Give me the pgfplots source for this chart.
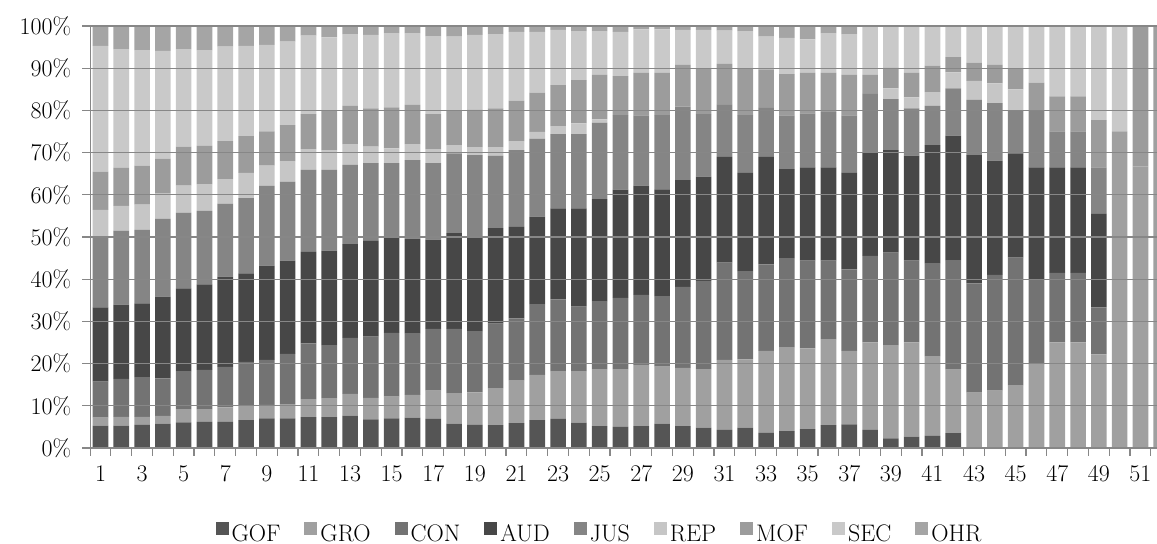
\documentclass[border=0pt]{standalone}
\usepackage{pgfplots}
\usepackage{pgfplotstable}
\pgfplotsset{compat=1.18}
\definecolor{cGOF}{HTML}{555555}
\definecolor{cGRO}{HTML}{A0A0A0}
\definecolor{cCON}{HTML}{737373}
\definecolor{cAUD}{HTML}{474747}
\definecolor{cJUS}{HTML}{858585}
\definecolor{cREP}{HTML}{C6C6C6}
\definecolor{cMOF}{HTML}{9C9C9C}
\definecolor{cSEC}{HTML}{C9C9C9}
\definecolor{cOHR}{HTML}{A5A5A5}
\definecolor{cgrid}{HTML}{878787}
\pgfplotstableread{
x GOF GRO CON AUD JUS REP MOF SEC OHR
1 5.3 1.9 8.5 17.6 16.6 6.5 9.1 29.8 4.7
2 5.3 2.1 9.0 17.6 17.5 5.9 9.0 28.1 5.5
3 5.5 1.9 9.4 17.5 17.4 6.0 9.2 27.4 5.7
4 5.8 1.8 8.9 19.4 18.4 6.0 8.3 25.5 5.9
5 6.1 3.1 9.0 19.6 18.0 6.4 9.2 23.1 5.5
6 6.2 3.0 9.3 20.3 17.4 6.3 9.1 22.7 5.7
7 6.2 3.4 9.6 21.4 17.3 5.8 9.0 22.4 4.9
8 6.6 3.5 10.3 21.0 17.8 6.0 8.7 21.4 4.7
9 7.0 3.2 10.7 22.3 18.9 4.8 8.1 20.5 4.5
10 7.0 3.4 11.9 22.1 18.7 4.9 8.5 19.8 3.7
11 7.3 4.3 13.2 21.7 19.4 4.9 8.3 18.6 2.3
12 7.3 4.5 12.6 22.4 19.1 4.7 9.3 17.4 2.7
13 7.7 5.1 13.3 22.2 18.8 4.9 9.1 17.0 1.9
14 6.8 5.1 14.5 22.7 18.4 3.9 9.1 17.4 2.1
15 7.0 5.2 15.1 22.6 17.6 3.5 9.7 17.6 1.7
16 7.2 5.4 14.6 22.4 18.6 3.8 9.3 17.0 1.7
17 6.9 6.7 14.6 21.2 18.1 3.3 8.3 18.5 2.4
18 5.8 7.2 15.2 22.7 18.9 2.0 8.1 17.6 2.5
19 5.5 7.7 14.5 22.3 19.4 1.9 8.8 17.8 2.1
20 5.4 8.8 15.3 22.6 17.2 2.0 9.2 17.6 1.9
21 5.9 10.2 14.6 21.7 18.2 2.1 9.6 16.3 1.4
22 6.6 10.7 16.8 20.7 18.5 1.6 9.3 14.4 1.4
23 6.9 11.3 17.0 21.6 17.6 1.9 9.7 13.1 0.9
24 6.0 12.2 15.3 23.3 17.6 2.5 10.3 11.6 1.2
25 5.2 13.5 16.1 24.2 18.1 0.8 10.5 10.4 1.2
26 5.0 13.7 16.9 25.6 17.7 0.0 9.2 10.5 1.4
27 5.2 14.5 16.6 25.9 16.6 0.0 10.1 10.3 0.8
28 5.8 13.5 16.7 25.3 17.6 0.0 10.0 10.3 0.8
29 5.2 13.8 19.2 25.3 17.4 0.0 9.9 8.3 0.9
30 4.8 13.9 20.9 24.7 14.8 0.0 10.9 9.1 0.9
31 4.3 16.6 23.0 25.1 12.3 0.0 9.7 7.9 1.1
32 4.8 16.2 20.9 23.3 13.7 0.0 11.1 8.8 1.2
33 3.6 19.4 20.5 25.5 11.6 0.0 9.1 7.8 2.5
34 4.0 19.9 21.1 21.1 12.7 0.0 9.8 8.6 2.8
35 4.5 19.1 20.8 22.1 12.8 0.0 9.6 7.9 3.2
36 5.4 20.4 18.6 22.1 13.1 0.0 9.3 9.4 1.7
37 5.6 17.4 19.3 22.9 13.6 0.0 9.6 9.7 1.9
38 4.3 20.7 20.5 24.6 13.8 0.0 4.5 11.6 0.0
39 2.3 22.1 21.9 24.3 12.1 2.5 4.9 9.9 0.0
40 2.7 22.3 19.4 24.9 11.2 2.6 5.8 11.1 0.0
41 2.9 18.9 22.0 28.0 9.3 3.2 6.3 9.4 0.0
42 3.5 15.1 25.9 29.5 11.2 3.8 3.6 7.4 0.0
43 0.0 13.1 25.9 30.4 13.1 4.5 4.3 8.7 0.0
44 0.0 13.6 27.4 27.1 13.6 4.7 4.4 9.2 0.0
45 0.0 14.9 30.2 24.7 10.1 5.1 5.0 10.0 0.0
46 0.0 19.9 20.1 26.5 13.4 0.0 6.7 13.4 0.0
47 0.0 25.0 16.5 25.0 8.5 0.0 8.3 16.7 0.0
48 0.0 25.0 16.5 25.0 8.5 0.0 8.3 16.7 0.0
49 0.0 22.2 11.1 22.2 11.0 0.0 11.2 22.3 0.0
50 0.0 75.0 0.0 0.0 0.0 0.0 0.0 25.0 0.0
51 0.0 66.7 0.0 0.0 0.0 0.0 33.3 0.0 0.0
52 0.0 100.0 0.0 0.0 0.0 0.0 0.0 0.0 0.0
}\data
\begin{document}
\begin{tikzpicture}
\begin{axis}[
  at={(90.1bp,96bp)}, anchor=south west,
  scale only axis, width=1081.6bp, height=422bp,
  xmin=0.5, xmax=52.5, ymin=0, ymax=100,
  ybar stacked, bar width=15.6bp,
  axis on top,
  axis lines*=left,
  axis line style={draw=cgrid, line width=1.2bp},
  ytick={0,10,...,100},
  yticklabel={\pgfmathprintnumber{\tick}\%},
  xtick={0.5,1.5,...,52.5},
  xticklabels={},
  extra x ticks={1,3,...,51},
  extra x tick style={major tick length=0bp, xticklabel style={yshift=-14bp}},
  tick style={draw=cgrid, line width=1.2bp},
  major tick length=8bp,
  tick align=outside,
  ymajorgrids,
  grid style={draw=cgrid, line width=1.2bp},
  /pgf/number format/assume math mode=true,
  tick label style={font=\fontsize{24}{28}\selectfont, text=black},
  yticklabel style={xshift=-7.5bp},
  legend style={at={(0.4714,-0.2026)}, anchor=center, legend columns=-1,
    draw=none, fill=none, font=\fontsize{24}{28}\selectfont,
    /tikz/every even column/.append style={column sep=21bp},
    nodes={inner xsep=3bp}},
  legend image code/.code={\fill[#1] (0bp,-1bp) rectangle (13bp,12bp);},
]
\addplot[fill=cGOF, draw=none] table[x=x, y=GOF] {\data};
\addplot[fill=cGRO, draw=none] table[x=x, y=GRO] {\data};
\addplot[fill=cCON, draw=none] table[x=x, y=CON] {\data};
\addplot[fill=cAUD, draw=none] table[x=x, y=AUD] {\data};
\addplot[fill=cJUS, draw=none] table[x=x, y=JUS] {\data};
\addplot[fill=cREP, draw=none] table[x=x, y=REP] {\data};
\addplot[fill=cMOF, draw=none] table[x=x, y=MOF] {\data};
\addplot[fill=cSEC, draw=none] table[x=x, y=SEC] {\data};
\addplot[fill=cOHR, draw=none] table[x=x, y=OHR] {\data};
\legend{GOF,GRO,CON,AUD,JUS,REP,MOF,SEC,OHR}
\end{axis}
\pgfresetboundingbox
\path[use as bounding box] (0,0) rectangle (1157bp,544bp);
\end{tikzpicture}
\end{document}
